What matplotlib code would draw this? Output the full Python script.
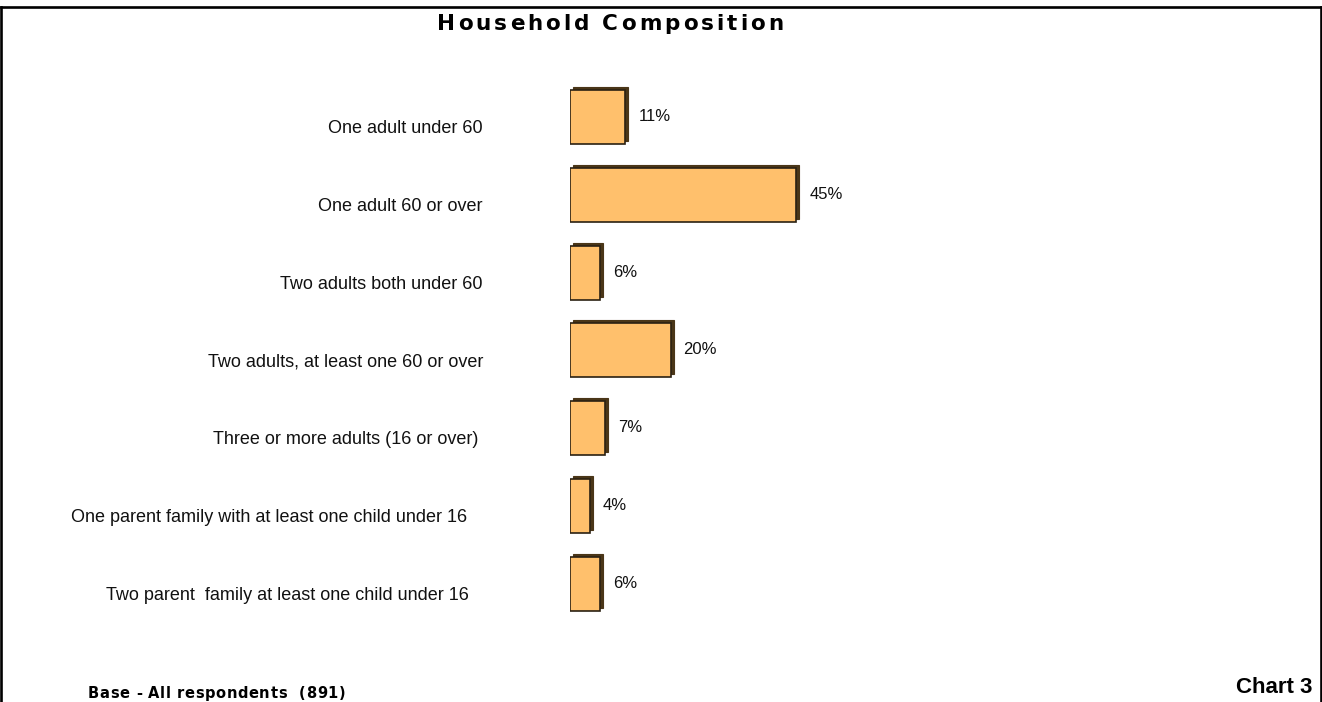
import matplotlib
matplotlib.use("Agg")
import matplotlib.pyplot as plt
from matplotlib.lines import Line2D
from matplotlib.transforms import offset_copy

# ---- data ----
categories = [
    "One adult under 60",
    "One adult 60 or over",
    "Two adults both under 60",
    "Two adults, at least one 60 or over",
    "Three or more adults (16 or over)",
    "One parent family with at least one child under 16",
    "Two parent  family at least one child under 16",
]
percentages = [11, 45, 6, 20, 7, 4, 6]
value_labels = [f"{v}%" for v in percentages]

title = "Household Composition"
base_note = "Base - All respondents  (891)"
chart_tag = "Chart 3"

# ---- layout (pixels) ----
W, H = 1322, 702
BAR_X0 = 570          # left edge of bars
PX_PER_PCT = 5.03     # horizontal scale
ROW_TOP = 117         # centre of first bar
ROW_STEP = 77.8       # spacing between bars
BAR_H_PX = 54
DEPTH = 3             # 3-D depth of bars
label_right_px = [483, 483, 483, 483, 478, 467, 469]

FACE = "#FFC06C"
SIDE = "#4a3618"
EDGE = "#2b2113"

plt.rcParams["font.family"] = ["Liberation Sans", "DejaVu Sans"]

fig = plt.figure(figsize=(W / 100, H / 100), dpi=100)
fig.patch.set_facecolor("white")

ax = fig.add_axes([BAR_X0 / W, 0, 1 - BAR_X0 / W, 1])
ax.set_xlim(0, (W - BAR_X0) / PX_PER_PCT)
ax.set_ylim((H - ROW_TOP) / ROW_STEP, -ROW_TOP / ROW_STEP)
ax.axis("off")

ypos = list(range(len(categories)))
bar_h = BAR_H_PX / ROW_STEP

# depth faces, then front faces
depth_tr = offset_copy(ax.transData, fig=fig, x=DEPTH, y=DEPTH, units="dots")
ax.barh(ypos, percentages, height=bar_h, color=SIDE, edgecolor=SIDE,
        linewidth=0.8, transform=depth_tr)
ax.barh(ypos, percentages, height=bar_h, color=FACE, edgecolor=EDGE,
        linewidth=1.2)

# value labels
val_tr = offset_copy(ax.transData, fig=fig, x=13, y=-4, units="dots")
for y, v, lab in zip(ypos, percentages, value_labels):
    ax.text(v, y, lab, transform=val_tr, ha="left", va="baseline",
            fontsize=12, color="#111111")

# category labels, right aligned left of the bars
for y, lab, xr in zip(ypos, categories, label_right_px):
    tr = offset_copy(ax.transData, fig=fig, x=xr - BAR_X0, y=-16, units="dots")
    ax.text(0, y, lab, transform=tr, ha="right", va="baseline",
            fontsize=13, color="#111111")


def spaced_text(x_left, baseline, text, target_width, **kw):
    """Draw text letter by letter so that it spans target_width pixels."""
    renderer = fig.canvas.get_renderer()

    def width_of(s):
        t = fig.text(0, 0, s, **kw)
        w = t.get_window_extent(renderer).width
        t.remove()
        return w

    ref = width_of("ii")
    widths = [width_of("i" + ch + "i") - ref for ch in text]
    gap = (target_width - sum(widths)) / max(len(text) - 1, 1)
    x = x_left
    for ch, w in zip(text, widths):
        fig.text(x / W, 1 - baseline / H, ch, ha="left", va="baseline", **kw)
        x += w + gap


heading_font = dict(family="DejaVu Sans", fontweight="bold", color="black")
spaced_text(437, 30, title, 346, fontsize=15.5, **heading_font)
spaced_text(88, 698, base_note, 257, fontsize=10.5, **heading_font)
fig.text(1312 / W, 1 - 693 / H, chart_tag, ha="right", va="baseline",
         fontsize=16, fontweight="bold", color="black")

# frame lines
frame_kw = dict(color="black", linewidth=1.9, transform=fig.transFigure)
fig.add_artist(Line2D([1.2 / W, 1320.5 / W], [1 - 7 / H, 1 - 7 / H], **frame_kw))
fig.add_artist(Line2D([1.2 / W, 1.2 / W], [0, 1 - 7 / H], **frame_kw))
fig.add_artist(Line2D([1320.5 / W, 1320.5 / W], [0, 1 - 7 / H], **frame_kw))

fig.savefig("out.png", dpi=100)
